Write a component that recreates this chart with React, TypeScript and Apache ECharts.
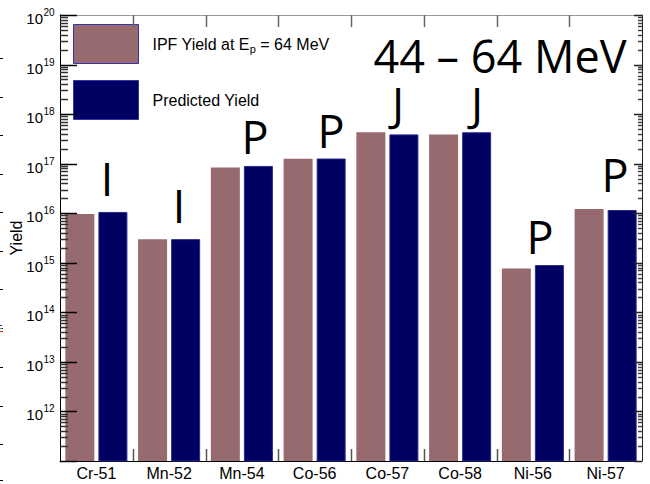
import React, { useEffect, useRef } from "react";
import * as echarts from "echarts";

// Isotopes and their yields (atoms) for the 44 – 64 MeV proton window
const isotopes = ["Cr-51", "Mn-52", "Mn-54", "Co-56", "Co-57", "Co-58", "Ni-56", "Ni-57"];
const ipfYield = [9.6e15, 3.0e15, 8.4e16, 1.26e17, 4.3e17, 3.9e17, 7.7e14, 1.22e16];
const predictedYield = [1.06e16, 3.0e15, 9.0e16, 1.27e17, 3.9e17, 4.3e17, 9.0e14, 1.16e16];
const routeLetters = ["I", "I", "P", "P", "J", "J", "P", "P"];
const energyWindow = "44 – 64 MeV";

// log-axis decades and the minor steps inside each one
const decadeValues = [1e11, 1e12, 1e13, 1e14, 1e15, 1e16, 1e17, 1e18, 1e19, 1e20];
const decadeExponents = [11, 12, 13, 14, 15, 16, 17, 18, 19, 20];
const minorSteps = [2, 3, 4, 5, 6, 7, 8, 9];

const IPF_NAME = "IPF Yield at Ep = 64 MeV";
const PRED_NAME = "Predicted Yield";

const SANS = "'Liberation Sans', Arial, Helvetica, sans-serif";
const BIG = "'Open Sans', 'Noto Sans', sans-serif";
const PINK = "#966a6e";
const NAVY = "#000062";

const GRID = { left: 60, right: 8, top: 15, bottom: 23 };
const W = 650;
const H = 484;
const TICK = 1.5; // tick thickness (px)

// hand-placed letter positions (px), one per isotope
const letterPos: [number, number][] = [
  [107, 178], [179, 205], [255, 136], [331, 130],
  [398, 103], [477, 103], [540, 236], [615, 174],
];

// small marks along the left page edge
const edgeMarks = [58, 97, 135, 174, 212, 251, 289, 328, 367, 406, 444, 480];

export default function App() {
  const ref = useRef<HTMLDivElement>(null);

  useEffect(() => {
    if (!ref.current) return;
    const chart = echarts.init(ref.current, null, { renderer: "svg" });

    const baseGraphics: any[] = [];
    routeLetters.forEach((t, i) => {
      baseGraphics.push({
        type: "text",
        x: letterPos[i][0],
        y: letterPos[i][1],
        style: { text: t, font: `45px ${BIG}`, fill: "#000", align: "center", verticalAlign: "middle" },
      });
    });
    baseGraphics.push({
      type: "text",
      x: 500,
      y: 55,
      style: { text: energyWindow, font: `45px ${BIG}`, fill: "#000", align: "center", verticalAlign: "middle" },
    });
    edgeMarks.forEach((y) => {
      baseGraphics.push({ type: "rect", shape: { x: 0, y, width: 3, height: 1 }, style: { fill: "#000" } });
    });
    baseGraphics.push({ type: "rect", shape: { x: 0, y: 325, width: 2, height: 1 }, style: { fill: "#2030d0" } });
    baseGraphics.push({ type: "rect", shape: { x: 0, y: 328, width: 2, height: 1 }, style: { fill: "#30b040" } });
    baseGraphics.push({ type: "rect", shape: { x: 0, y: 331, width: 3, height: 1 }, style: { fill: "#e02020" } });

    const logAxis = {
      type: "log",
      logBase: 10,
      min: 1e11,
      max: 1e20,
      splitLine: { show: false },
      axisTick: { show: false },
      minorTick: { show: false },
      axisLabel: { show: false },
    };

    chart.setOption({
      animation: false,
      backgroundColor: "#fff",
      textStyle: { fontFamily: SANS },
      grid: { ...GRID, containLabel: false },
      legend: {
        orient: "vertical",
        left: 73,
        top: 24,
        padding: 0,
        itemWidth: 65,
        itemHeight: 39,
        itemGap: 16,
        icon: "rect",
        itemStyle: { borderColor: "#3434a8", borderWidth: 1 },
        data: [IPF_NAME, PRED_NAME],
        formatter: (name: string) => (name === IPF_NAME ? "IPF Yield at E{sub|p} = 64 MeV" : name),
        textStyle: {
          fontFamily: SANS,
          fontSize: 16,
          color: "#000",
          padding: [0, 0, 0, 9],
          rich: {
            sub: { fontFamily: SANS, fontSize: 11, color: "#000", padding: [9, 0, 0, 0] },
          },
        },
      },
      xAxis: [
        {
          type: "category",
          data: isotopes,
          position: "bottom",
          axisLine: { show: true, lineStyle: { color: "#000", width: 1 } },
          axisTick: { show: false },
          axisLabel: { show: true, color: "#000", fontSize: 16, fontFamily: SANS, margin: 4 },
          splitLine: { show: false },
        },
        {
          type: "category",
          data: isotopes,
          position: "top",
          axisLine: { show: true, lineStyle: { color: "#999", width: 1 } },
          axisTick: { show: false },
          axisLabel: { show: false },
          splitLine: { show: false },
        },
      ],
      yAxis: [
        {
          ...logAxis,
          position: "left",
          name: "Yield",
          nameLocation: "middle",
          nameGap: 36,
          nameTextStyle: { fontFamily: SANS, fontSize: 16, color: "#000" },
          axisLine: { show: true, lineStyle: { color: "#000", width: 1 } },
        },
        {
          ...logAxis,
          position: "right",
          axisLine: { show: true, lineStyle: { color: "#222", width: 1 } },
        },
      ],
      series: [
        {
          name: IPF_NAME,
          type: "bar",
          data: ipfYield,
          barWidth: 29,
          barGap: "14%",
          itemStyle: { color: PINK },
        },
        {
          name: PRED_NAME,
          type: "bar",
          data: predictedYield,
          barWidth: 29,
          barGap: "14%",
          itemStyle: { color: NAVY, borderColor: "#2a2a8c", borderWidth: 1 },
        },
      ],
      graphic: baseGraphics,
    });

    // frame ticks and decade labels placed through the grid's scales
    const plotLeft = GRID.left;
    const plotRight = W - GRID.right;
    const plotTop = GRID.top;
    const plotBottom = H - GRID.bottom;
    const yOf = (v: number) => {
      const p = chart.convertToPixel({ gridIndex: 0 }, [0, v]) as any;
      const y = Array.isArray(p) ? p[1] : NaN;
      if (Number.isFinite(y)) return y;
      const t = (Math.log10(v) - 11) / 9;
      return plotBottom - t * (plotBottom - plotTop);
    };
    const xOf = (i: number) => {
      const p = chart.convertToPixel({ gridIndex: 0 }, [i, 1e15]) as any;
      const x = Array.isArray(p) ? p[0] : NaN;
      if (Number.isFinite(x)) return x;
      const step = (plotRight - plotLeft) / isotopes.length;
      return plotLeft + step * (i + 0.5);
    };

    const extra: any[] = [];
    const mark = (x: number, y: number, w: number, h: number, fill: string) =>
      extra.push({ type: "rect", silent: true, z: 50, shape: { x, y, width: w, height: h }, style: { fill } });

    decadeValues.forEach((v, i) => {
      const y = Math.round(yOf(v)) - 0.25;
      mark(plotLeft, y, 17, TICK, "#000");
      mark(plotRight - 8, y, 8, TICK, "#222");
      if (i < decadeValues.length - 1) {
        minorSteps.forEach((m) => {
          const ym = Math.round(yOf(m * v)) - 0.25;
          mark(plotLeft, ym, 8, TICK, "#333");
          mark(plotRight - 4, ym, 4, TICK, "#444");
        });
      }
      const e = decadeExponents[i];
      if (e > 11) {
        extra.push({
          type: "text", silent: true, z: 50, x: plotLeft - 17, y: yOf(v) + 3.5,
          style: { text: "10", font: `15px ${SANS}`, fill: "#000", align: "right", verticalAlign: "middle" },
        });
        extra.push({
          type: "text", silent: true, z: 50, x: plotLeft - 16.5, y: yOf(v) - 2.5,
          style: { text: String(e), font: `10px ${SANS}`, fill: "#000", align: "left", verticalAlign: "middle" },
        });
      }
    });

    for (let i = 0; i < isotopes.length - 1; i++) {
      const x = Math.round((xOf(i) + xOf(i + 1)) / 2) - 0.25;
      mark(x, plotTop, TICK, 12, "#666");
      mark(x, plotBottom - 12, TICK, 12, "#555");
    }

    chart.setOption({ graphic: [...baseGraphics, ...extra] });

    return () => chart.dispose();
  }, []);

  return (
    <div
      ref={ref}
      style={{ position: "fixed", left: 0, top: 0, width: W, height: H, background: "#fff" }}
    />
  );
}
